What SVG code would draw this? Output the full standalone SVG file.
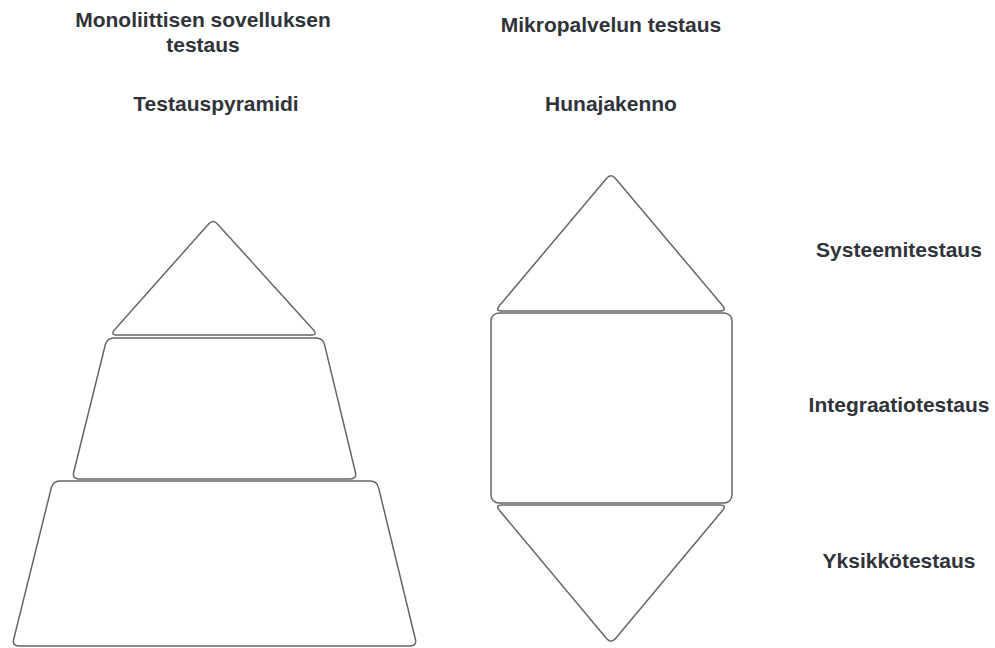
<svg xmlns="http://www.w3.org/2000/svg" width="995" height="648" viewBox="0 0 995 648">
  <style>
    .shape { fill: #ffffff; stroke: #666666; stroke-width: 1.5; stroke-linejoin: round; }
    .lbl { font-family: "Liberation Sans", Arial, sans-serif; font-weight: bold; font-size: 21px; fill: #30333a; text-anchor: middle; }
  </style>
  <rect x="0" y="0" width="995" height="648" fill="#ffffff"/>
  <g id="titles">
    <text class="lbl" x="203" y="27">Monoliittisen sovelluksen</text>
    <text class="lbl" x="203" y="52">testaus</text>
    <text class="lbl" x="216" y="111">Testauspyramidi</text>
    <text class="lbl" x="611" y="32">Mikropalvelun testaus</text>
    <text class="lbl" x="611" y="111">Hunajakenno</text>
  </g>
  <g id="pyramid-top">
    <path class="shape" d="M208.4,224.2 Q213,219 217.7,224.2 L313.3,329.8 Q318,335 311,335 L117,335 Q110,335 114.6,329.8 Z"/>
  </g>
  <g id="pyramid-middle">
    <path class="shape" d="M114,338 L316,338 Q323,338 324.6,344.8 L355.4,472.2 Q357,479 350,479 L79,479 Q72,479 73.7,472.2 L105.3,344.8 Q107,338 114,338 Z"/>
  </g>
  <g id="pyramid-bottom">
    <path class="shape" d="M60,481 L370,481 Q377,481 378.6,487.8 L415.4,639.2 Q417,646 410,646 L19,646 Q12,646 13.7,639.2 L51.3,487.8 Q53,481 60,481 Z"/>
  </g>
  <g id="honeycomb-top">
    <path class="shape" d="M606.5,178.4 Q611,173 615.5,178.4 L722.5,305.6 Q727,311 720,311 L502,311 Q495,311 499.5,305.6 Z"/>
  </g>
  <g id="honeycomb-middle">
    <rect class="shape" x="491" y="313" width="241" height="190" rx="8" ry="8"/>
  </g>
  <g id="honeycomb-bottom">
    <path class="shape" d="M502,505 L720,505 Q727,505 722.5,510.4 L615.5,638.6 Q611,644 606.5,638.6 L499.5,510.4 Q495,505 502,505 Z"/>
  </g>
  <g id="levels">
    <text class="lbl" x="899" y="257">Systeemitestaus</text>
    <text class="lbl" x="899" y="412">Integraatiotestaus</text>
    <text class="lbl" x="899" y="568">Yksikkötestaus</text>
  </g>
  <g id="connectors"></g>
</svg>
